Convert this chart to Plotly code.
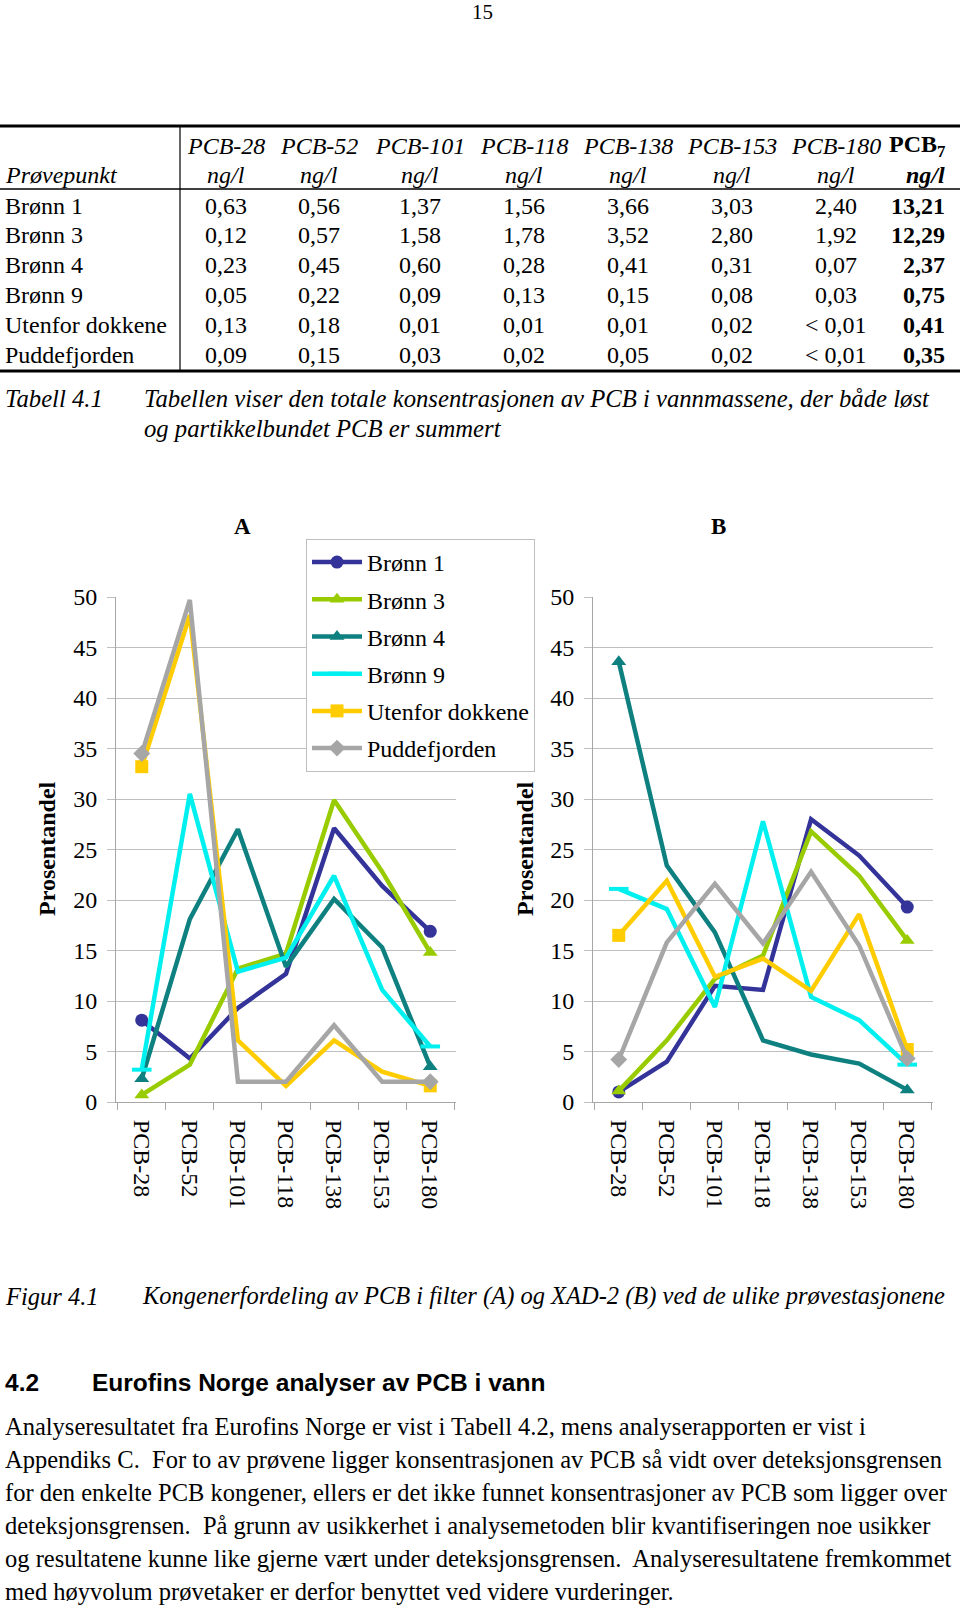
import plotly.graph_objects as go

W, H = 960, 1608
SERIF = "Liberation Serif"
SANS = "Liberation Sans"

# ---------------- data ----------------
congeners = ["PCB-28", "PCB-52", "PCB-101", "PCB-118", "PCB-138", "PCB-153", "PCB-180"]
stations = ["Brønn 1", "Brønn 3", "Brønn 4", "Brønn 9", "Utenfor dokkene", "Puddefjorden"]

# Table 4.1 (ng/l) as printed, last value = PCB7
tab_bronn1 = ["0,63", "0,56", "1,37", "1,56", "3,66", "3,03", "2,40", "13,21"]
tab_bronn3 = ["0,12", "0,57", "1,58", "1,78", "3,52", "2,80", "1,92", "12,29"]
tab_bronn4 = ["0,23", "0,45", "0,60", "0,28", "0,41", "0,31", "0,07", "2,37"]
tab_bronn9 = ["0,05", "0,22", "0,09", "0,13", "0,15", "0,08", "0,03", "0,75"]
tab_utenfor = ["0,13", "0,18", "0,01", "0,01", "0,01", "0,02", "< 0,01", "0,41"]
tab_pudde = ["0,09", "0,15", "0,03", "0,02", "0,05", "0,02", "< 0,01", "0,35"]

# Figure 4.1 A (filter), percent share
filter_bronn1 = [8.1, 4.3, 9.3, 12.7, 27.1, 21.4, 16.9]
filter_bronn3 = [0.7, 3.7, 13.2, 14.7, 29.9, 22.8, 14.8]
filter_bronn4 = [2.3, 18.1, 27.0, 13.4, 20.1, 15.3, 3.5]
filter_bronn9 = [3.2, 30.5, 12.9, 14.3, 22.4, 11.1, 5.5]
filter_utenfor = [33.2, 48.2, 6.1, 1.6, 6.1, 3.0, 1.6]
filter_pudde = [34.5, 49.7, 2.0, 2.0, 7.6, 2.0, 2.0]

# Figure 4.1 B (XAD-2), percent share
xad_bronn1 = [1.0, 4.0, 11.5, 11.1, 28.0, 24.4, 19.3]
xad_bronn3 = [1.1, 6.1, 12.2, 14.5, 26.8, 22.4, 16.0]
xad_bronn4 = [43.6, 23.4, 16.8, 6.1, 4.7, 3.8, 1.2]
xad_bronn9 = [21.1, 19.1, 9.4, 27.8, 10.4, 8.1, 3.7]
xad_utenfor = [16.5, 21.9, 12.4, 14.2, 11.0, 18.6, 5.2]
xad_pudde = [4.2, 15.8, 21.6, 15.7, 22.8, 15.5, 4.3]

colors = ["#333399", "#99CC00", "#0E8080", "#00F0F0", "#FFCC00", "#A6A6A6"]
symbols = ["circle", "triangle-up", "triangle-up", "line-ew", "square", "diamond"]

filter_series = [filter_bronn1, filter_bronn3, filter_bronn4, filter_bronn9, filter_utenfor, filter_pudde]
xad_series = [xad_bronn1, xad_bronn3, xad_bronn4, xad_bronn9, xad_utenfor, xad_pudde]
table_rows = [tab_bronn1, tab_bronn3, tab_bronn4, tab_bronn9, tab_utenfor, tab_pudde]


def X(px):
    return px / W


def Y(py):
    return 1 - py / H


fig = go.Figure()

for panel, series_list in (("A", filter_series), ("B", xad_series)):
    xa = "x" if panel == "A" else "x2"
    ya = "y" if panel == "A" else "y2"
    for name, vals, col, sym in zip(stations, series_list, colors, symbols):
        is_line = sym == "line-ew"
        fig.add_trace(go.Scatter(
            x=congeners, y=vals, name=name, xaxis=xa, yaxis=ya,
            mode="lines+markers",
            line=dict(color=col, width=4.5),
            marker=dict(symbol=sym, size=13 if not is_line else 14, color=col,
                        line=dict(color=col, width=4 if is_line else 0)),
            selectedpoints=[0, len(vals) - 1],
            selected=dict(marker=dict(opacity=1)),
            unselected=dict(marker=dict(opacity=0)),
            cliponaxis=False,
            showlegend=(panel == "A"),
            legendgroup=name,
            hoverinfo="x+y+name",
        ))

AXC = "#A6A6A6"
GRID = "#BFBFBF"
tickfont = dict(family=SERIF, size=24, color="black")

ydom = [Y(1102), Y(597)]
xcommon = dict(type="category", categoryorder="array", categoryarray=congeners,
               tickangle=90, tickson="boundaries", ticks="outside", ticklen=7,
               tickcolor=AXC, showline=True, linecolor=AXC, linewidth=1,
               showgrid=False, tickfont=tickfont, ticklabelstandoff=12,
               fixedrange=True, automargin=False)
ycommon = dict(range=[0, 50], dtick=5, tick0=0, showgrid=True, gridcolor=GRID,
               gridwidth=1, showline=True, linecolor=AXC, linewidth=1,
               ticks="outside", ticklen=8, tickcolor=GRID, tickfont=tickfont,
               ticklabelstandoff=5, zeroline=False, fixedrange=True,
               domain=ydom, automargin=False)

fig.update_layout(
    width=W, height=H,
    margin=dict(l=0, r=0, t=0, b=0, pad=0, autoexpand=False),
    paper_bgcolor="white", plot_bgcolor="white",
    xaxis=dict(domain=[X(116), X(456)], anchor="y", **xcommon),
    yaxis=dict(anchor="x", **ycommon),
    xaxis2=dict(domain=[X(593), X(933)], anchor="y2", **xcommon),
    yaxis2=dict(anchor="x2", **ycommon),
    legend=dict(x=X(306), y=Y(539), xanchor="left", yanchor="top",
                bgcolor="white", bordercolor=GRID, borderwidth=1,
                font=dict(family=SERIF, size=24, color="black"),
                tracegroupgap=3, itemwidth=50, traceorder="grouped"),
    showlegend=True,
)

ann = []


def txt(x, y, s, size=24, family=SERIF, anchor="left", angle=0, color="black"):
    ann.append(dict(x=X(x), y=Y(y), xref="paper", yref="paper", text=s,
                    showarrow=False, xanchor=anchor, yanchor="middle",
                    textangle=angle,
                    font=dict(family=family, size=size, color=color)))


# page number
txt(482, 12, "15", size=21, anchor="center")

# ---------------- table ----------------
col_centers = [226, 319, 420, 524, 628, 732, 836]
last_right = 947
hdr1_y, hdr2_y = 146, 175
for c, cx in zip(congeners, col_centers):
    txt(cx, hdr1_y, "<i>%s</i>" % c, anchor="center")
    txt(cx, hdr2_y, "<i>ng/l</i>", anchor="center")
txt(last_right, hdr1_y, "<b>PCB<sub>7</sub></b>", anchor="right")
txt(last_right, hdr2_y, "<b><i>ng/l</i></b>", anchor="right")
txt(3, hdr2_y, "<i>Prøvepunkt</i>")

row_y0, row_dy = 205.5, 29.9
for i, (name, vals) in enumerate(zip(stations, table_rows)):
    ry = row_y0 + i * row_dy
    txt(3, ry, name)
    for cx, v in zip(col_centers, vals[:7]):
        txt(cx, ry, v, anchor="center")
    txt(last_right, ry, "<b>%s</b>" % vals[7], anchor="right")

shapes = [
    dict(type="line", xref="paper", yref="paper", x0=0, x1=1, y0=Y(126), y1=Y(126),
         line=dict(color="black", width=3)),
    dict(type="line", xref="paper", yref="paper", x0=0, x1=1, y0=Y(189), y1=Y(189),
         line=dict(color="black", width=1.5)),
    dict(type="line", xref="paper", yref="paper", x0=0, x1=1, y0=Y(371), y1=Y(371),
         line=dict(color="black", width=3)),
    dict(type="line", xref="paper", yref="paper", x0=X(180), x1=X(180), y0=Y(127), y1=Y(370),
         line=dict(color="black", width=1.2)),
]

CAP = 24.7
# table caption
txt(3, 399, "<i>Tabell 4.1</i>", size=CAP)
txt(142, 399, "<i>Tabellen viser den totale konsentrasjonen av PCB i vannmassene, der både løst</i>", size=CAP)
txt(142, 428, "<i>og partikkelbundet PCB er summert</i>", size=CAP)

# ---------------- chart labels ----------------
txt(242, 526, "<b>A</b>", size=23, anchor="center")
txt(718, 526, "<b>B</b>", size=23, anchor="center")
txt(47, 849, "<b>Prosentandel</b>", size=24, anchor="center", angle=-90)
txt(525, 849, "<b>Prosentandel</b>", size=24, anchor="center", angle=-90)

# figure caption
txt(3, 1296, "<i>Figur 4.1</i>", size=24.5)
txt(140, 1296, "<i>Kongenerfordeling av PCB i filter (A) og XAD-2 (B) ved de ulike prøvestasjonene</i>", size=24.5)

# heading
txt(3, 1382, "<b>4.2</b>", size=24.5, family=SANS)
txt(90, 1382, "<b>Eurofins Norge analyser av PCB i vann</b>", size=24.5, family=SANS)

body_lines = [
    "Analyseresultatet fra Eurofins Norge er vist i Tabell 4.2, mens analyserapporten er vist i",
    "Appendiks C.  For to av prøvene ligger konsentrasjonen av PCB så vidt over deteksjonsgrensen",
    "for den enkelte PCB kongener, ellers er det ikke funnet konsentrasjoner av PCB som ligger over",
    "deteksjonsgrensen.  På grunn av usikkerhet i analysemetoden blir kvantifiseringen noe usikker",
    "og resultatene kunne like gjerne vært under deteksjonsgrensen.  Analyseresultatene fremkommet",
    "med høyvolum prøvetaker er derfor benyttet ved videre vurderinger.",
]
for i, line in enumerate(body_lines):
    txt(3, 1426 + 33 * i, line, size=24.5)

fig.update_layout(annotations=ann, shapes=shapes)
fig.write_html(
    "out.html",
    config={"displayModeBar": False},
    post_script="document.body.style.margin='0';document.body.style.overflow='hidden';",
)
